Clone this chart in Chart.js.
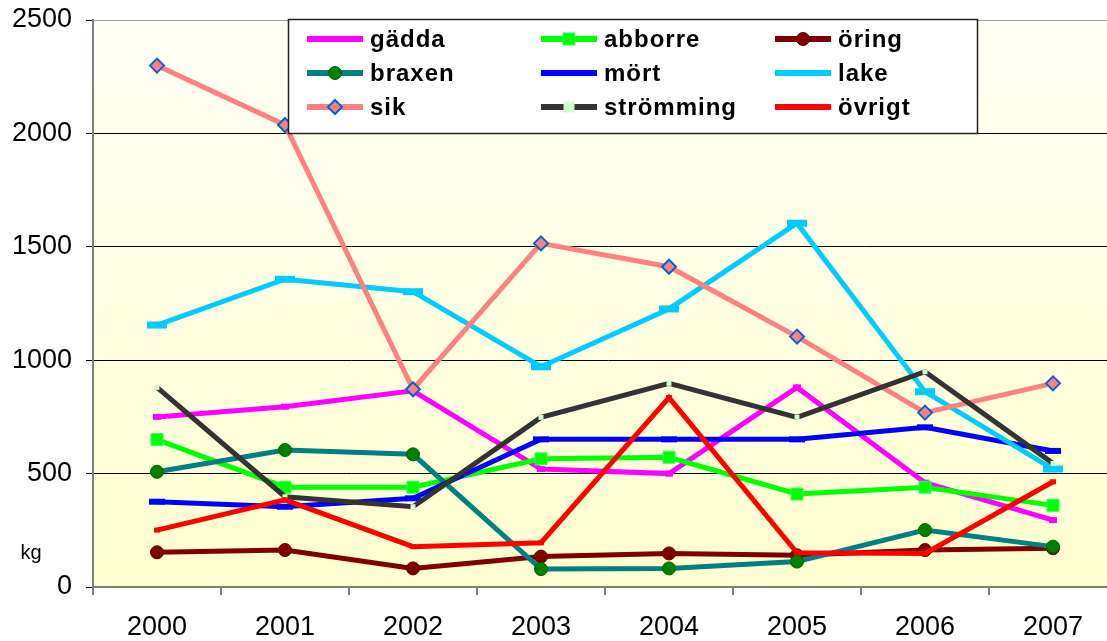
<!DOCTYPE html>
<html><head><meta charset="utf-8">
<script src="https://cdn.jsdelivr.net/npm/chart.js@4/dist/chart.umd.min.js"></script>
<style>html,body{margin:0;padding:0;overflow:hidden;background:#fff;width:1107px;height:641px;}#wrap{width:1107px;height:641px;overflow:hidden;position:relative;}#c{position:absolute;left:0;top:0;}</style>
</head><body><div id="wrap"><canvas id="c" width="1140" height="641"></canvas></div>
<script>
const years = ['2000','2001','2002','2003','2004','2005','2006','2007'];
const yTicks = [0, 500, 1000, 1500, 2000, 2500];
const unitLabel = 'kg';
const gadda     = [750, 795, 865, 520, 500, 880, 460, 295];
const abborre   = [650, 440, 440, 565, 572, 410, 440, 360];
const oring     = [153, 163, 82, 134, 148, 140, 163, 171];
const braxen    = [508, 604, 585, 79, 82, 112, 251, 178];
const mort      = [376, 354, 391, 651, 651, 651, 704, 600];
const lake      = [1155, 1357, 1302, 971, 1226, 1604, 861, 520];
const sik       = [2299, 2037, 872, 1515, 1412, 1104, 769, 898];
const stromming = [880, 398, 354, 748, 898, 748, 949, 545];
const ovrigt    = [251, 384, 178, 195, 835, 151, 148, 464];

const FONT = "'Liberation Sans', Arial, sans-serif";

function ds(label, data, color, pt) {
  return Object.assign({
    label, data, borderColor: color, backgroundColor: color,
    borderWidth: 5, tension: 0, pointHoverRadius: 0
  }, pt);
}
const datasets = [
  ds('gädda', gadda, '#FF00FF', {pointStyle:'line', pointRadius:4, pointBorderWidth:6, pointBorderColor:'#FF00FF'}),
  ds('abborre', abborre, '#00FF00', {pointStyle:'rect', pointRadius:8.5, pointBackgroundColor:'#00FF00', pointBorderColor:'#33FF66', pointBorderWidth:1}),
  ds('öring', oring, '#800000', {pointStyle:'circle', pointRadius:6.5, pointBackgroundColor:'#800000', pointBorderColor:'#5a0000', pointBorderWidth:1}),
  ds('braxen', braxen, '#008080', {pointStyle:'circle', pointRadius:6.5, pointBackgroundColor:'#008000', pointBorderColor:'#006000', pointBorderWidth:1}),
  ds('mört', mort, '#0000FF', {pointStyle:'line', pointRadius:8, pointBorderWidth:6, pointBorderColor:'#0000FF'}),
  ds('lake', lake, '#00CCFF', {pointStyle:'line', pointRadius:10, pointBorderWidth:7, pointBorderColor:'#00CCFF'}),
  ds('sik', sik, '#FF8080', {pointStyle:'rectRot', pointRadius:7, pointBackgroundColor:'#FF8080', pointBorderColor:'#0066CC', pointBorderWidth:2}),
  ds('strömming', stromming, '#333333', {pointStyle:'rect', pointRadius:3.5, pointBackgroundColor:'#CCFFCC', pointBorderColor:'#CCFFCC', pointBorderWidth:0}),
  ds('övrigt', ovrigt, '#FF0000', {pointStyle:'line', pointRadius:3, pointBorderWidth:5, pointBorderColor:'#FF0000'})
];
datasets.forEach((d, i) => { d.order = datasets.length - i; });

// each year takes one 128px slot starting at the left frame; the right edge is cut like the original
const CAT_W = 128;
const firstYear = +years[0], lastYear = +years[years.length - 1];
const xMin = firstYear - 0.5;

const bgPlugin = {
  id: 'bg',
  beforeDraw(chart) {
    const {ctx, chartArea: a} = chart;
    const g = ctx.createLinearGradient(0, a.top, 0, a.bottom);
    g.addColorStop(0, 'rgb(255,255,246)');
    g.addColorStop(1, 'rgb(255,255,206)');
    ctx.save(); ctx.fillStyle = g;
    ctx.fillRect(a.left, a.top, a.right - a.left, a.bottom - a.top);
    ctx.restore();
  },
  afterDraw(chart) {
    const {ctx} = chart;
    ctx.save();
    ctx.font = '20px ' + FONT; ctx.fillStyle = '#000';
    ctx.textAlign = 'center'; ctx.textBaseline = 'middle';
    ctx.fillText(unitLabel, 31, 553);
    ctx.restore();
  }
};

function drawMarker(ctx, d, x, y) {
  const st = d.pointStyle, r = d.pointRadius;
  ctx.save();
  ctx.fillStyle = d.pointBackgroundColor || d.borderColor;
  ctx.strokeStyle = d.pointBorderColor || d.borderColor;
  ctx.lineWidth = d.pointBorderWidth || 0;
  if (st === 'rect') {
    const s = r * Math.SQRT1_2;
    ctx.fillRect(x - s, y - s, 2*s, 2*s);
    if (ctx.lineWidth) ctx.strokeRect(x - s, y - s, 2*s, 2*s);
  } else if (st === 'circle') {
    ctx.beginPath(); ctx.arc(x, y, r, 0, Math.PI*2); ctx.fill();
    if (ctx.lineWidth) ctx.stroke();
  } else if (st === 'rectRot') {
    ctx.beginPath(); ctx.moveTo(x, y - r); ctx.lineTo(x + r, y); ctx.lineTo(x, y + r); ctx.lineTo(x - r, y); ctx.closePath();
    ctx.fill(); ctx.stroke();
  }
  ctx.restore();
}

const legendPlugin = {
  id: 'boxLegend',
  afterDatasetsDraw(chart) {
    const {ctx} = chart;
    const bx = 288, by = 19, bw = 689, bh = 114;
    ctx.save();
    ctx.fillStyle = '#fff';
    ctx.fillRect(bx, by, bw, bh);
    ctx.strokeStyle = '#222'; ctx.lineWidth = 1.5;
    ctx.strokeRect(bx + 0.5, by + 0.5, bw, bh);
    const colX = [307, 541, 775];
    const rowY = [39, 73, 107];
    chart.data.datasets.forEach((d, i) => {
      const x = colX[i % 3], y = rowY[Math.floor(i / 3)];
      ctx.strokeStyle = d.borderColor; ctx.lineWidth = 6; ctx.lineCap = 'butt';
      ctx.beginPath(); ctx.moveTo(x, y); ctx.lineTo(x + 56, y); ctx.stroke();
      drawMarker(ctx, d, x + 28, y);
      ctx.fillStyle = '#000';
      ctx.font = 'bold 24px ' + FONT;
      ctx.letterSpacing = '1px';
      ctx.textAlign = 'left'; ctx.textBaseline = 'middle';
      ctx.fillText(d.label, x + 63, y + 1);
    });
    ctx.restore();
  }
};

const isYear = v => Math.abs(v - Math.round(v)) < 1e-6;

const chart = new Chart(document.getElementById('c'), {
  type: 'line',
  data: { labels: years, datasets },
  options: {
    responsive: false, animation: false, devicePixelRatio: 1,
    layout: { padding: { top: 20, right: 0, left: 0, bottom: 0 } },
    plugins: { legend: { display: false }, tooltip: { enabled: false } },
    elements: { line: { borderJoinStyle: 'miter' } },
    scales: {
      x: {
        type: 'linear', min: xMin, max: xMin + 8,
        afterBuildTicks(s) {
          const t = [];
          for (let y = firstYear; y <= lastYear; y++) { t.push({ value: y - 0.5 }); t.push({ value: y }); }
          s.ticks = t.filter(o => o.value <= s.max + 1e-6);
        },
        grid: {
          display: true, drawOnChartArea: false, drawTicks: true, tickLength: 8, lineWidth: 2,
          color: c => (c.tick && isYear(c.tick.value)) ? 'rgba(0,0,0,0)' : '#808080'
        },
        border: { display: true, color: '#808080', width: 2 },
        ticks: { color: '#000', font: { family: FONT, size: 27 }, padding: 16, maxRotation: 0, autoSkip: false,
          callback: v => isYear(v) ? String(Math.round(v)) : '' },
        afterFit(s) { s.height = 54; s.paddingLeft = 0; s.paddingRight = 0; }
      },
      y: {
        min: 0, max: 2500,
        afterBuildTicks(s) { s.ticks = yTicks.map(v => ({ value: v })); },
        grid: {
          color: c => (c.tick && (c.tick.value === 0 || c.tick.value === 2500)) ? '#999' : '#000',
          tickColor: '#000', lineWidth: 1, drawTicks: true, tickLength: 7
        },
        border: { display: true, color: '#808080', width: 2 },
        ticks: { color: '#000', font: { family: FONT, size: 27 }, padding: 14, callback: v => String(v) },
        afterFit(s) { s.width = 93; s.paddingTop = 0; s.paddingBottom = 0; }
      }
    }
  },
  plugins: [bgPlugin, legendPlugin]
});

// keep 128px per year whatever width the layout gave the plot
for (let k = 0; k < 2; k++) {
  const a = chart.chartArea;
  chart.options.scales.x.max = xMin + (a.right - a.left) / CAT_W;
  chart.update();
}
</script></body></html>
